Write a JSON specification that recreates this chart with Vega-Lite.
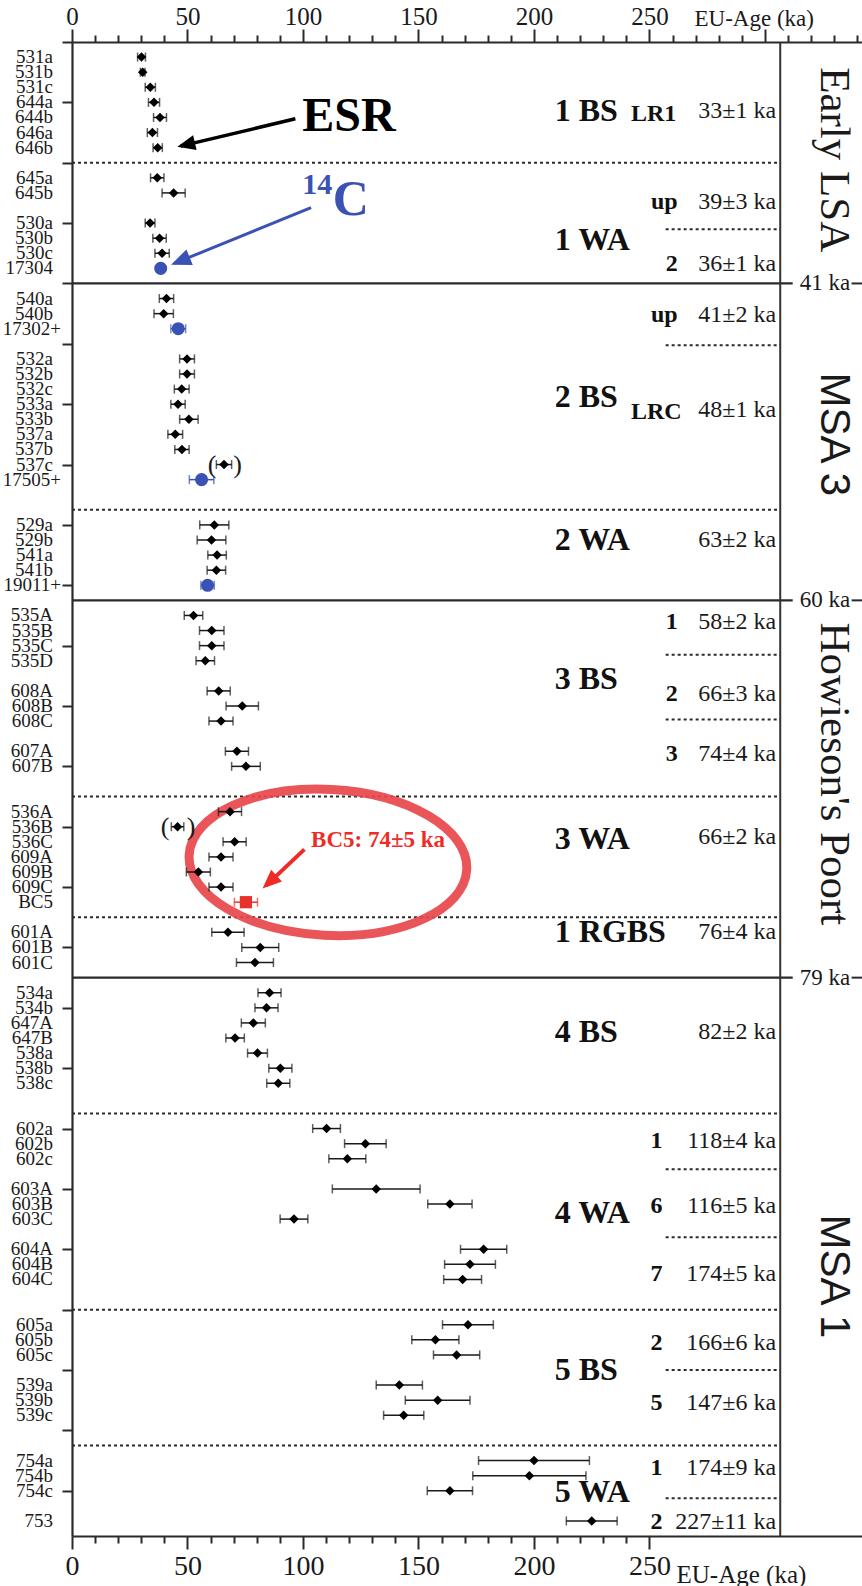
{
"$schema": "https://vega.github.io/schema/vega-lite/v6.json",
"width": 790,
"height": 1494,
"autosize": {"type": "none"},
"padding": {"left": 72, "top": 42, "right": 0, "bottom": 50},
"background": "#ffffff",
"config": {"view": {"stroke": null}, "axis": {"grid": false}},
"resolve": {"axis": {"x": "independent"}},
"datasets": {
"samples": [
{"row":0,"sample":"531a","age":30.1,"err":1.7,"method":"ESR"},
{"row":1,"sample":"531b","age":30.6,"err":1.0,"method":"ESR"},
{"row":2,"sample":"531c","age":33.9,"err":2.2,"method":"ESR"},
{"row":3,"sample":"644a","age":35.5,"err":2.4,"method":"ESR"},
{"row":4,"sample":"644b","age":38.1,"err":2.8,"method":"ESR"},
{"row":5,"sample":"646a","age":34.8,"err":2.2,"method":"ESR"},
{"row":6,"sample":"646b","age":37.1,"err":2.0,"method":"ESR"},
{"row":8,"sample":"645a","age":36.9,"err":2.9,"method":"ESR"},
{"row":9,"sample":"645b","age":44.0,"err":5.0,"method":"ESR"},
{"row":11,"sample":"530a","age":33.8,"err":2.1,"method":"ESR"},
{"row":12,"sample":"530b","age":37.9,"err":2.9,"method":"ESR"},
{"row":13,"sample":"530c","age":39.0,"err":3.1,"method":"ESR"},
{"row":14,"sample":"17304","age":38.4,"err":0.8,"method":"14C"},
{"row":16,"sample":"540a","age":40.9,"err":3.1,"method":"ESR"},
{"row":17,"sample":"540b","age":39.7,"err":4.2,"method":"ESR"},
{"row":18,"sample":"17302+","age":46.0,"err":3.2,"method":"14C"},
{"row":20,"sample":"532a","age":49.8,"err":3.2,"method":"ESR"},
{"row":21,"sample":"532b","age":49.8,"err":3.2,"method":"ESR"},
{"row":22,"sample":"532c","age":47.5,"err":3.2,"method":"ESR"},
{"row":23,"sample":"533a","age":45.9,"err":3.1,"method":"ESR"},
{"row":24,"sample":"533b","age":50.6,"err":4.0,"method":"ESR"},
{"row":25,"sample":"537a","age":44.7,"err":3.2,"method":"ESR"},
{"row":26,"sample":"537b","age":47.6,"err":3.1,"method":"ESR"},
{"row":27,"sample":"537c","age":65.8,"err":3.3,"method":"ESR"},
{"row":28,"sample":"17505+","age":56.1,"err":5.3,"method":"14C"},
{"row":31,"sample":"529a","age":61.6,"err":6.3,"method":"ESR"},
{"row":32,"sample":"529b","age":60.4,"err":6.2,"method":"ESR"},
{"row":33,"sample":"541a","age":62.8,"err":4.0,"method":"ESR"},
{"row":34,"sample":"541b","age":62.5,"err":4.0,"method":"ESR"},
{"row":35,"sample":"19011+","age":58.7,"err":2.9,"method":"14C"},
{"row":37,"sample":"535A","age":52.6,"err":4.0,"method":"ESR"},
{"row":38,"sample":"535B","age":60.5,"err":5.3,"method":"ESR"},
{"row":39,"sample":"535C","age":60.5,"err":5.3,"method":"ESR"},
{"row":40,"sample":"535D","age":57.7,"err":4.0,"method":"ESR"},
{"row":42,"sample":"608A","age":63.5,"err":5.0,"method":"ESR"},
{"row":43,"sample":"608B","age":73.7,"err":7.0,"method":"ESR"},
{"row":44,"sample":"608C","age":64.5,"err":5.2,"method":"ESR"},
{"row":46,"sample":"607A","age":71.4,"err":5.0,"method":"ESR"},
{"row":47,"sample":"607B","age":75.3,"err":6.2,"method":"ESR"},
{"row":50,"sample":"536A","age":68.4,"err":5.0,"method":"ESR"},
{"row":51,"sample":"536B","age":45.7,"err":2.7,"method":"ESR"},
{"row":52,"sample":"536C","age":70.4,"err":5.0,"method":"ESR"},
{"row":53,"sample":"609A","age":64.5,"err":5.2,"method":"ESR"},
{"row":54,"sample":"609B","age":54.7,"err":5.2,"method":"ESR"},
{"row":55,"sample":"609C","age":64.5,"err":5.2,"method":"ESR"},
{"row":56,"sample":"BC5","age":75.3,"err":5.0,"method":"BC5"},
{"row":58,"sample":"601A","age":67.5,"err":7.0,"method":"ESR"},
{"row":59,"sample":"601B","age":81.5,"err":8.0,"method":"ESR"},
{"row":60,"sample":"601C","age":79.2,"err":8.0,"method":"ESR"},
{"row":62,"sample":"534a","age":85.5,"err":5.0,"method":"ESR"},
{"row":63,"sample":"534b","age":84.2,"err":5.0,"method":"ESR"},
{"row":64,"sample":"647A","age":78.5,"err":5.2,"method":"ESR"},
{"row":65,"sample":"647B","age":70.6,"err":4.0,"method":"ESR"},
{"row":66,"sample":"538a","age":80.3,"err":4.3,"method":"ESR"},
{"row":67,"sample":"538b","age":90.2,"err":5.0,"method":"ESR"},
{"row":68,"sample":"538c","age":89.3,"err":5.0,"method":"ESR"},
{"row":71,"sample":"602a","age":110.2,"err":6.0,"method":"ESR"},
{"row":72,"sample":"602b","age":127.0,"err":9.0,"method":"ESR"},
{"row":73,"sample":"602c","age":119.2,"err":8.0,"method":"ESR"},
{"row":75,"sample":"603A","age":131.7,"err":19.0,"method":"ESR"},
{"row":76,"sample":"603B","age":163.6,"err":9.6,"method":"ESR"},
{"row":77,"sample":"603C","age":96.1,"err":6.0,"method":"ESR"},
{"row":79,"sample":"604A","age":178.2,"err":10.0,"method":"ESR"},
{"row":80,"sample":"604B","age":172.3,"err":11.0,"method":"ESR"},
{"row":81,"sample":"604C","age":169.1,"err":8.2,"method":"ESR"},
{"row":84,"sample":"605a","age":171.4,"err":11.0,"method":"ESR"},
{"row":85,"sample":"605b","age":157.3,"err":10.2,"method":"ESR"},
{"row":86,"sample":"605c","age":166.5,"err":10.0,"method":"ESR"},
{"row":88,"sample":"539a","age":141.7,"err":10.0,"method":"ESR"},
{"row":89,"sample":"539b","age":158.3,"err":14.0,"method":"ESR"},
{"row":90,"sample":"539c","age":143.6,"err":8.7,"method":"ESR"},
{"row":93,"sample":"754a","age":200.0,"err":24.0,"method":"ESR"},
{"row":94,"sample":"754b","age":198.0,"err":24.5,"method":"ESR"},
{"row":95,"sample":"754c","age":163.6,"err":9.8,"method":"ESR"},
{"row":97,"sample":"753","age":225.0,"err":11.0,"method":"ESR"}
],
"dotted": [{"row":7},{"row":30},{"row":49},{"row":57},{"row":70},{"row":83},{"row":92}],
"subdotted": [{"row":11.4},{"row":19.1},{"row":39.6},{"row":43.9},{"row":73.7},{"row":78.2},{"row":87.0},{"row":95.5}],
"solid": [{"row":15,"label":"41 ka"},{"row":36,"label":"60 ka"},{"row":61,"label":"79 ka"}],
"strata": [{"row":3.6,"label":"1 BS"},{"row":12.1,"label":"1 WA"},{"row":22.5,"label":"2 BS"},{"row":32,"label":"2 WA"},{"row":41.2,"label":"3 BS"},{"row":51.8,"label":"3 WA"},{"row":58.0,"label":"1 RGBS"},{"row":64.6,"label":"4 BS"},{"row":76.6,"label":"4 WA"},{"row":87.0,"label":"5 BS"},{"row":95.1,"label":"5 WA"}],
"lrs": [{"row":3.8,"label":"LR1"},{"row":23.5,"label":"LRC"}],
"subsUpper": [{"row":9.6,"label":"up"},{"row":13.7,"label":"2"},{"row":17.1,"label":"up"},{"row":37.45,"label":"1"},{"row":42.2,"label":"2"},{"row":46.15,"label":"3"}],
"subsLower": [{"row":71.85,"label":"1"},{"row":76.1,"label":"6"},{"row":80.65,"label":"7"},{"row":85.2,"label":"2"},{"row":89.2,"label":"5"},{"row":93.5,"label":"1"},{"row":97.1,"label":"2"}],
"ages": [{"row":3.6,"label":"33±1 ka"},{"row":9.6,"label":"39±3 ka"},{"row":13.7,"label":"36±1 ka"},{"row":17.1,"label":"41±2 ka"},{"row":23.4,"label":"48±1 ka"},{"row":32,"label":"63±2 ka"},{"row":37.45,"label":"58±2 ka"},{"row":42.2,"label":"66±3 ka"},{"row":46.15,"label":"74±4 ka"},{"row":51.7,"label":"66±2 ka"},{"row":58.0,"label":"76±4 ka"},{"row":64.6,"label":"82±2 ka"},{"row":71.85,"label":"118±4 ka"},{"row":76.1,"label":"116±5 ka"},{"row":80.65,"label":"174±5 ka"},{"row":85.2,"label":"166±6 ka"},{"row":89.2,"label":"147±6 ka"},{"row":93.5,"label":"174±9 ka"},{"row":97.1,"label":"227±11 ka"}],
"periodsSerif": [{"row":6.8,"label":"Early LSA"},{"row":47.5,"label":"Howieson's Poort"}],
"periodsSans": [{"row":25.0,"label":"MSA 3"},{"row":80.8,"label":"MSA 1"}],
"parens": [{"row":27,"age":60.6,"label":"("},{"row":27,"age":71.7,"label":")"},{"row":51,"age":40.3,"label":"("},{"row":51,"age":51.5,"label":")"}]
},
"layer": [
{"data": {"name": "dotted"},
 "mark": {"type": "rule", "strokeDash": [3, 3], "strokeWidth": 2, "color": "#2a2a2a"},
 "encoding": {"y": {"field": "row", "type": "quantitative"}, "x": {"datum": 0, "type": "quantitative", "axis": null}, "x2": {"datum": 306.6}}},
{"data": {"name": "subdotted"},
 "mark": {"type": "rule", "strokeDash": [3, 3], "strokeWidth": 2, "color": "#2a2a2a"},
 "encoding": {"y": {"field": "row", "type": "quantitative"}, "x": {"datum": 257, "type": "quantitative", "axis": null}, "x2": {"datum": 306.6}}},
{"data": {"name": "solid"},
 "mark": {"type": "rule", "strokeWidth": 2.2, "color": "#2a2a2a"},
 "encoding": {"y": {"field": "row", "type": "quantitative"}, "x": {"datum": 0, "type": "quantitative", "axis": null}, "x2": {"datum": 312}}},
{"data": {"name": "solid"},
 "mark": {"type": "rule", "strokeWidth": 2, "color": "#2a2a2a"},
 "encoding": {"y": {"field": "row", "type": "quantitative"}, "x": {"datum": 337.5, "type": "quantitative", "axis": null}, "x2": {"datum": 342}}},
{"data": {"name": "solid"},
 "mark": {"type": "text", "font": "Liberation Serif", "fontSize": 23, "align": "left", "baseline": "middle", "color": "#1a1a1a"},
 "encoding": {"y": {"field": "row", "type": "quantitative"}, "x": {"datum": 315, "type": "quantitative", "axis": null}, "text": {"field": "label"}}},
{"data": {"values": [{}]},
 "mark": {"type": "rule", "strokeWidth": 2, "color": "#333333"},
 "encoding": {"x": {"datum": 306.6, "type": "quantitative", "axis": null}, "y": {"datum": -1, "type": "quantitative"}, "y2": {"datum": 98}}},
{"data": {"values": [{}]},
 "mark": {"type": "point", "shape": "M -1 0 C -1 -0.29 -0.552 -0.525 0 -0.525 C 0.552 -0.525 1 -0.29 1 0 C 1 0.29 0.552 0.525 0 0.525 C -0.552 0.525 -1 0.29 -1 0 Z", "size": 77284, "angle": 3, "filled": false, "stroke": "#e8474b", "strokeWidth": 9, "opacity": 0.92},
 "encoding": {"x": {"datum": 110.8, "type": "quantitative", "axis": null}, "y": {"datum": 53.36, "type": "quantitative"}}},
{"data": {"name": "samples"}, "transform": [{"filter": {"field": "method", "equal": "ESR"}}],
 "mark": {"type": "errorbar", "ticks": {"size": 9, "thickness": 1.5, "color": "#1a1a1a"}, "rule": {"strokeWidth": 1.5, "color": "#1a1a1a"}},
 "encoding": {"x": {"field": "age", "type": "quantitative", "axis": null}, "xError": {"field": "err"}, "y": {"field": "row", "type": "quantitative"}}},
{"data": {"name": "samples"}, "transform": [{"filter": {"field": "method", "equal": "14C"}}],
 "mark": {"type": "errorbar", "ticks": {"size": 9, "thickness": 1.5, "color": "#3a52b4"}, "rule": {"strokeWidth": 1.5, "color": "#3a52b4"}},
 "encoding": {"x": {"field": "age", "type": "quantitative", "axis": null}, "xError": {"field": "err"}, "y": {"field": "row", "type": "quantitative"}}},
{"data": {"name": "samples"}, "transform": [{"filter": {"field": "method", "equal": "BC5"}}],
 "mark": {"type": "errorbar", "ticks": {"size": 9, "thickness": 1.5, "color": "#e8322d"}, "rule": {"strokeWidth": 1.5, "color": "#e8322d"}},
 "encoding": {"x": {"field": "age", "type": "quantitative", "axis": null}, "xError": {"field": "err"}, "y": {"field": "row", "type": "quantitative"}}},
{"data": {"name": "samples"}, "transform": [{"filter": {"field": "method", "equal": "ESR"}}],
 "mark": {"type": "point", "shape": "diamond", "filled": true, "size": 90, "color": "#000000", "opacity": 1},
 "encoding": {
  "x": {"field": "age", "type": "quantitative", "scale": {"domain": [0, 342], "nice": false, "zero": false},
   "axis": {"orient": "top", "values": [0,10,20,30,40,50,60,70,80,90,100,110,120,130,140,150,160,170,180,190,200,210,220,230,240,250,260,270,280,290,300,310,320,330,340],
    "labelExpr": "(datum.value % 50 === 0 && datum.value <= 250) ? datum.label : ''", "labelFlush": false, "labelOverlap": false,
    "tickSize": {"condition": {"test": "datum.value % 50 === 0", "value": 13}, "value": 7},
    "tickWidth": 2, "tickColor": "#2a2a2a", "domainColor": "#2a2a2a", "domainWidth": 2.2,
    "labelFont": "Liberation Serif", "labelFontSize": 25, "labelColor": "#1a1a1a", "labelPadding": 0,
    "title": "EU-Age (ka)", "titleFont": "Liberation Serif", "titleFontSize": 23, "titleFontWeight": "normal", "titleColor": "#1a1a1a",
    "titleX": 622, "titleY": -17, "titleAlign": "left", "titleBaseline": "alphabetic", "titleAngle": 0, "grid": false}},
  "y": {"field": "row", "type": "quantitative", "scale": {"domain": [-1, 98], "reverse": true, "nice": false, "zero": false},
   "axis": {"orient": "left", "values": [-1,0,1,2,3,4,5,6,7,8,9,10,11,12,13,14,15,16,17,18,19,20,21,22,23,24,25,26,27,28,29,30,31,32,33,34,35,36,37,38,39,40,41,42,43,44,45,46,47,48,49,50,51,52,53,54,55,56,57,58,59,60,61,62,63,64,65,66,67,68,69,70,71,72,73,74,75,76,77,78,79,80,81,82,83,84,85,86,87,88,89,90,91,92,93,94,95,96,97,98],
    "labels": false, "tickSize": 10, "tickWidth": 2, "tickColor": "#2a2a2a", "domainColor": "#2a2a2a", "domainWidth": 2.2, "title": null, "grid": false}}}},
{"data": {"name": "samples"}, "transform": [{"filter": {"field": "method", "equal": "14C"}}],
 "mark": {"type": "point", "shape": "circle", "filled": true, "size": 170, "color": "#3a52b4", "opacity": 1},
 "encoding": {
  "x": {"field": "age", "type": "quantitative",
   "axis": {"orient": "bottom", "values": [0,10,20,30,40,50,60,70,80,90,100,110,120,130,140,150,160,170,180,190,200,210,220,230,240,250],
    "labelExpr": "datum.value % 50 === 0 ? datum.label : ''", "labelFlush": false, "labelOverlap": false,
    "tickSize": {"condition": {"test": "datum.value % 50 === 0", "value": 13}, "value": 7},
    "tickWidth": 2, "tickColor": "#2a2a2a", "domainColor": "#2a2a2a", "domainWidth": 2.2,
    "labelFont": "Liberation Serif", "labelFontSize": 28, "labelColor": "#1a1a1a", "labelPadding": 3,
    "title": "EU-Age (ka)", "titleFont": "Liberation Serif", "titleFontSize": 25, "titleFontWeight": "normal", "titleColor": "#1a1a1a",
    "titleX": 604, "titleY": 46, "titleAlign": "left", "titleBaseline": "alphabetic", "titleAngle": 0, "grid": false}},
  "y": {"field": "row", "type": "quantitative"}}},
{"data": {"name": "samples"}, "transform": [{"filter": {"field": "method", "equal": "BC5"}}],
 "mark": {"type": "point", "shape": "square", "filled": true, "size": 150, "color": "#e8322d", "opacity": 1},
 "encoding": {"x": {"field": "age", "type": "quantitative", "axis": null}, "y": {"field": "row", "type": "quantitative"}}},
{"data": {"name": "samples"}, "transform": [{"filter": "indexof(datum.sample, '+') < 0"}],
 "mark": {"type": "text", "font": "Liberation Serif", "fontSize": 19, "align": "right", "baseline": "middle", "dx": -19, "color": "#1a1a1a"},
 "encoding": {"x": {"datum": 0, "type": "quantitative", "axis": null}, "y": {"field": "row", "type": "quantitative"}, "text": {"field": "sample"}}},
{"data": {"name": "samples"}, "transform": [{"filter": "indexof(datum.sample, '+') >= 0"}],
 "mark": {"type": "text", "font": "Liberation Serif", "fontSize": 19, "align": "right", "baseline": "middle", "dx": -11, "color": "#1a1a1a"},
 "encoding": {"x": {"datum": 0, "type": "quantitative", "axis": null}, "y": {"field": "row", "type": "quantitative"}, "text": {"field": "sample"}}},
{"data": {"name": "parens"},
 "mark": {"type": "text", "font": "Liberation Serif", "fontSize": 26, "align": "center", "baseline": "middle", "color": "#1a1a1a"},
 "encoding": {"x": {"field": "age", "type": "quantitative", "axis": null}, "y": {"field": "row", "type": "quantitative"}, "text": {"field": "label"}}},
{"data": {"name": "strata"},
 "mark": {"type": "text", "font": "Liberation Serif", "fontSize": 32, "fontWeight": "bold", "align": "left", "baseline": "middle", "color": "#111111"},
 "encoding": {"x": {"datum": 209, "type": "quantitative", "axis": null}, "y": {"field": "row", "type": "quantitative"}, "text": {"field": "label"}}},
{"data": {"name": "lrs"},
 "mark": {"type": "text", "font": "Liberation Serif", "fontSize": 24, "fontWeight": "bold", "align": "left", "baseline": "middle", "color": "#111111"},
 "encoding": {"x": {"datum": 242, "type": "quantitative", "axis": null}, "y": {"field": "row", "type": "quantitative"}, "text": {"field": "label"}}},
{"data": {"name": "subsUpper"},
 "mark": {"type": "text", "font": "Liberation Serif", "fontSize": 24, "fontWeight": "bold", "align": "right", "baseline": "middle", "color": "#111111"},
 "encoding": {"x": {"datum": 262.2, "type": "quantitative", "axis": null}, "y": {"field": "row", "type": "quantitative"}, "text": {"field": "label"}}},
{"data": {"name": "subsLower"},
 "mark": {"type": "text", "font": "Liberation Serif", "fontSize": 24, "fontWeight": "bold", "align": "right", "baseline": "middle", "color": "#111111"},
 "encoding": {"x": {"datum": 255.6, "type": "quantitative", "axis": null}, "y": {"field": "row", "type": "quantitative"}, "text": {"field": "label"}}},
{"data": {"name": "ages"},
 "mark": {"type": "text", "font": "Liberation Serif", "fontSize": 24, "align": "right", "baseline": "middle", "color": "#1a1a1a"},
 "encoding": {"x": {"datum": 304.8, "type": "quantitative", "axis": null}, "y": {"field": "row", "type": "quantitative"}, "text": {"field": "label"}}},
{"data": {"name": "periodsSerif"},
 "mark": {"type": "text", "font": "Liberation Serif", "fontSize": 43, "angle": 90, "align": "center", "baseline": "middle", "color": "#1a1a1a"},
 "encoding": {"x": {"datum": 329.7, "type": "quantitative", "axis": null}, "y": {"field": "row", "type": "quantitative"}, "text": {"field": "label"}}},
{"data": {"name": "periodsSans"},
 "mark": {"type": "text", "font": "Liberation Sans", "fontSize": 42, "angle": 90, "align": "center", "baseline": "middle", "color": "#1a1a1a"},
 "encoding": {"x": {"datum": 329.7, "type": "quantitative", "axis": null}, "y": {"field": "row", "type": "quantitative"}, "text": {"field": "label"}}},
{"data": {"values": [{}]},
 "mark": {"type": "text", "font": "Liberation Serif", "fontSize": 48, "fontWeight": "bold", "align": "left", "baseline": "middle", "color": "#000000", "text": "ESR"},
 "encoding": {"x": {"datum": 99.7, "type": "quantitative", "axis": null}, "y": {"datum": 4.0, "type": "quantitative"}}},
{"data": {"values": [{}]},
 "mark": {"type": "text", "font": "Liberation Serif", "fontSize": 30, "fontWeight": "bold", "align": "left", "baseline": "middle", "color": "#3a52b4", "text": "14"},
 "encoding": {"x": {"datum": 99.7, "type": "quantitative", "axis": null}, "y": {"datum": 8.5, "type": "quantitative"}}},
{"data": {"values": [{}]},
 "mark": {"type": "text", "font": "Liberation Serif", "fontSize": 50, "fontWeight": "bold", "align": "left", "baseline": "middle", "color": "#3a52b4", "text": "C"},
 "encoding": {"x": {"datum": 112.9, "type": "quantitative", "axis": null}, "y": {"datum": 9.45, "type": "quantitative"}}},
{"data": {"values": [{}]},
 "mark": {"type": "text", "font": "Liberation Serif", "fontSize": 23, "fontWeight": "bold", "align": "left", "baseline": "middle", "color": "#ee2b25", "text": "BC5: 74±5 ka"},
 "encoding": {"x": {"datum": 103.5, "type": "quantitative", "axis": null}, "y": {"datum": 51.9, "type": "quantitative"}}},
{"data": {"values": [{}]},
 "mark": {"type": "rule", "strokeWidth": 3.5, "color": "#000000"},
 "encoding": {"x": {"datum": 96.7, "type": "quantitative", "axis": null}, "x2": {"datum": 47}, "y": {"datum": 4.09, "type": "quantitative"}, "y2": {"datum": 5.9}}},
{"data": {"values": [{}]},
 "mark": {"type": "point", "shape": "M 0 0 L -0.42 1 L 0.42 1 Z", "size": 1296, "angle": 256.7, "filled": true, "color": "#000000", "opacity": 1},
 "encoding": {"x": {"datum": 45.6, "type": "quantitative", "axis": null}, "y": {"datum": 5.94, "type": "quantitative"}}},
{"data": {"values": [{}]},
 "mark": {"type": "rule", "strokeWidth": 3, "color": "#3a52b4"},
 "encoding": {"x": {"datum": 103.5, "type": "quantitative", "axis": null}, "x2": {"datum": 44.5}, "y": {"datum": 9.97, "type": "quantitative"}, "y2": {"datum": 13.66}}},
{"data": {"values": [{}]},
 "mark": {"type": "point", "shape": "M 0 0 L -0.42 1 L 0.42 1 Z", "size": 1600, "angle": 247.7, "filled": true, "color": "#3a52b4", "opacity": 1},
 "encoding": {"x": {"datum": 42.9, "type": "quantitative", "axis": null}, "y": {"datum": 13.76, "type": "quantitative"}}},
{"data": {"values": [{}]},
 "mark": {"type": "rule", "strokeWidth": 4, "color": "#ee2b25"},
 "encoding": {"x": {"datum": 100.6, "type": "quantitative", "axis": null}, "x2": {"datum": 84}, "y": {"datum": 52.5, "type": "quantitative"}, "y2": {"datum": 54.9}}},
{"data": {"values": [{}]},
 "mark": {"type": "point", "shape": "M 0 0 L -0.42 1 L 0.42 1 Z", "size": 1444, "angle": 227.4, "filled": true, "color": "#ee2b25", "opacity": 1},
 "encoding": {"x": {"datum": 82.5, "type": "quantitative", "axis": null}, "y": {"datum": 55.1, "type": "quantitative"}}}
]
}
